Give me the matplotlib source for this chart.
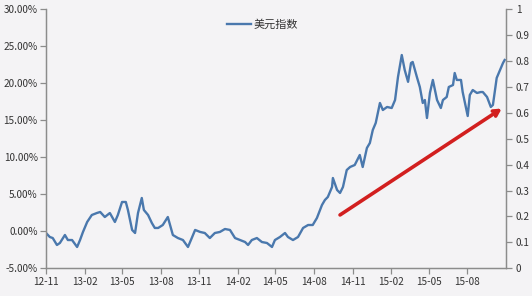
import pandas as pd
import numpy as np
import matplotlib
matplotlib.use('Agg')
import matplotlib.pyplot as plt
import matplotlib.dates as mdates
from matplotlib.ticker import FuncFormatter, MultipleLocator

# ── Palette ──────────────────────────────────────────
BG = "#f4f3f5"; LINE = "#4a78ad"; AXIS = "#8c8c8c"; TXT = "#333333"; RED = "#d21f1f"

plt.rcParams.update({
    'font.family': ['Noto Sans CJK SC', 'DejaVu Sans'],
    'font.size': 7.2,
    'figure.facecolor': BG, 'axes.facecolor': BG,
    'text.color': TXT, 'xtick.color': TXT, 'ytick.color': TXT,
})

# ── DATA (US dollar index, change vs start, %) ───────
dates = [
    "2012-11-01", "2012-11-10", "2012-11-17", "2012-11-27", "2012-12-04", "2012-12-16",
    "2012-12-23", "2013-01-02", "2013-01-14", "2013-01-21", "2013-01-28", "2013-02-07",
    "2013-02-18", "2013-03-02", "2013-03-10", "2013-03-21", "2013-04-02", "2013-04-14",
    "2013-04-21", "2013-05-01", "2013-05-10", "2013-05-15", "2013-05-25", "2013-06-01",
    "2013-06-08", "2013-06-17", "2013-06-22", "2013-07-02", "2013-07-11", "2013-07-18",
    "2013-07-26", "2013-08-06", "2013-08-18", "2013-08-30", "2013-09-11", "2013-09-23",
    "2013-10-05", "2013-10-14", "2013-10-22", "2013-11-03", "2013-11-14", "2013-11-26",
    "2013-12-08", "2013-12-20", "2014-01-01", "2014-01-13", "2014-01-25", "2014-02-06",
    "2014-02-18", "2014-02-25", "2014-03-06", "2014-03-18", "2014-03-30", "2014-04-11",
    "2014-04-23", "2014-04-30", "2014-05-12", "2014-05-24", "2014-05-31", "2014-06-12",
    "2014-06-24", "2014-07-06", "2014-07-18", "2014-07-29", "2014-08-08", "2014-08-20",
    "2014-08-27", "2014-09-03", "2014-09-13", "2014-09-15", "2014-09-25", "2014-10-02",
    "2014-10-09", "2014-10-18", "2014-10-26", "2014-11-06", "2014-11-18", "2014-11-25",
    "2014-12-05", "2014-12-12", "2014-12-19", "2014-12-26", "2015-01-05", "2015-01-12",
    "2015-01-22", "2015-02-02", "2015-02-10", "2015-02-17", "2015-02-26", "2015-03-05",
    "2015-03-13", "2015-03-20", "2015-03-24", "2015-04-03", "2015-04-10", "2015-04-17",
    "2015-04-22", "2015-04-27", "2015-05-04", "2015-05-11", "2015-05-16", "2015-05-21",
    "2015-05-30", "2015-06-04", "2015-06-13", "2015-06-18", "2015-06-28", "2015-07-02",
    "2015-07-07", "2015-07-17", "2015-07-21", "2015-08-02", "2015-08-07", "2015-08-14",
    "2015-08-24", "2015-09-02", "2015-09-07", "2015-09-17", "2015-09-26", "2015-10-01",
    "2015-10-06", "2015-10-10", "2015-10-18", "2015-10-25", "2015-10-29",
]
usd_pct = [
    -0.23, -0.77, -0.91, -1.85, -1.58, -0.50,
    -1.18, -1.18, -2.12, -1.18, -0.09, 1.26,
    2.20, 2.47, 2.61, 1.93, 2.47, 1.26,
    2.20, 3.96, 3.96, 2.88, 0.18, -0.23,
    2.47, 4.50, 2.88, 2.20, 1.12, 0.45,
    0.45, 0.85, 1.93, -0.50, -0.91, -1.18,
    -2.12, -0.91, 0.18, -0.09, -0.23, -0.91,
    -0.23, -0.09, 0.31, 0.18, -0.91, -1.18,
    -1.45, -1.85, -1.18, -0.91, -1.45, -1.58,
    -2.12, -1.18, -0.77, -0.23, -0.77, -1.18,
    -0.77, 0.45, 0.85, 0.85, 1.80, 3.55,
    4.23, 4.64, 5.99, 7.20, 5.58, 5.18,
    5.99, 8.28, 8.69, 8.96, 10.31, 8.69,
    11.26, 11.93, 13.69, 14.64, 17.34, 16.39,
    16.80, 16.66, 17.74, 20.85, 23.82, 21.80,
    20.20, 22.74, 22.88, 20.85, 19.50, 17.34,
    17.74, 15.31, 18.69, 20.45, 19.09, 17.74,
    16.66, 17.74, 18.15, 19.50, 19.77, 21.39,
    20.45, 20.45, 18.82, 15.58, 18.42, 19.09,
    18.69, 18.82, 18.82, 18.15, 16.80, 17.07,
    19.09, 20.72, 21.80, 22.74, 23.15,
]
tick_dates = pd.date_range("2012-11-01", "2015-08-01", freq="3MS")
right_ticks = [0, 0.1, 0.2, 0.3, 0.4, 0.5, 0.6, 0.7, 0.8, 0.9, 1]

df = pd.DataFrame({'date': pd.to_datetime(dates), 'usd': usd_pct})

# ── PLOT ─────────────────────────────────────────────
fig = plt.figure(figsize=(5.32, 2.96), dpi=100)
ax = fig.add_axes([0.0865, 0.0936, 0.8645, 0.875])
ax.plot(df['date'], df['usd'], color=LINE, linewidth=1.7, label="美元指数")

ax.set_ylim(-5, 30)
ax.yaxis.set_major_locator(MultipleLocator(5))
ax.yaxis.set_major_formatter(FuncFormatter(lambda v, _: f"{v:.2f}%"))
ax.set_xlim(pd.Timestamp("2012-11-01"), pd.Timestamp("2015-11-01"))
ax.set_xticks(tick_dates)
ax.xaxis.set_major_formatter(mdates.DateFormatter('%y-%m'))

ax.spines['top'].set_visible(False)
for s in ['left', 'bottom', 'right']:
    ax.spines[s].set_color(AXIS)
    ax.spines[s].set_linewidth(0.9)
ax.tick_params(axis='both', direction='out', length=4, width=0.9, color=AXIS, pad=2)

ax2 = ax.twinx()
ax2.set_ylim(0, 1)
ax2.set_yticks(right_ticks)
ax2.set_yticklabels([f"{t:g}" for t in right_ticks])
ax2.spines['top'].set_visible(False)
for s in ['left', 'bottom', 'right']:
    ax2.spines[s].set_color(AXIS)
    ax2.spines[s].set_linewidth(0.9)
ax2.tick_params(axis='y', direction='out', length=4, width=0.9, color=AXIS, pad=3)

# red trend arrow
ax2.annotate("", xy=(pd.Timestamp("2015-10-22"), 0.617),
             xytext=(pd.Timestamp("2014-10-02"), 0.206),
             arrowprops=dict(arrowstyle='->,head_length=0.55,head_width=0.3',
                             color=RED, linewidth=2.6, shrinkA=0, shrinkB=0))

ax.legend(loc='upper center', bbox_to_anchor=(0.47, 1.0), frameon=False,
          handlelength=2.2, handletextpad=0.2, fontsize=8)

plt.savefig("out.png", dpi=100, facecolor=BG)
plt.close()
